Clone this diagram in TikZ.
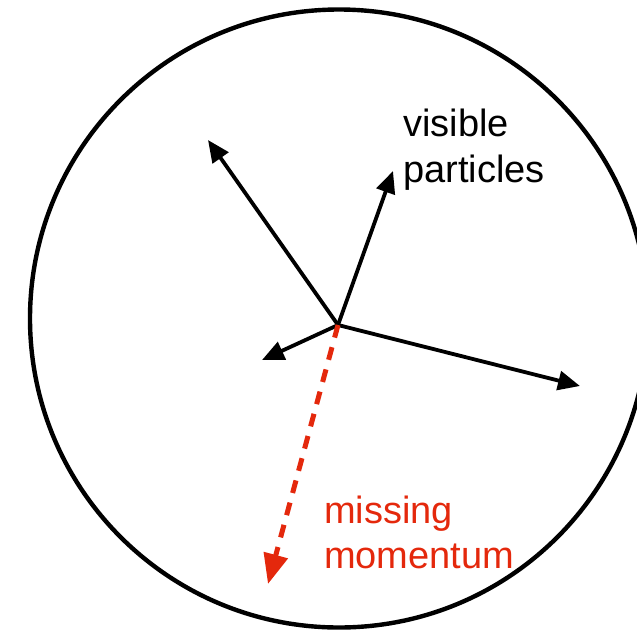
\documentclass[tikz,border=0pt]{standalone}
\usepackage{fontspec}
\setmainfont{Liberation Sans}
\usetikzlibrary{arrows.meta}
\definecolor{mred}{RGB}{228,40,12}
\begin{document}
\begin{tikzpicture}[x=1pt,y=-1pt,
  arr/.style={line width=3.8pt,-{Triangle[length=22pt,width=19pt]}},
  redarr/.style={line width=5pt,mred,dash pattern=on 13pt off 10pt,-{Triangle[length=30pt,width=24pt]}},
  lbl/.style={inner sep=0pt,anchor=base west,font=\fontsize{38}{45}\selectfont}]
\useasboundingbox (0,0) rectangle (637,630);
\clip (0,0) rectangle (637,630);
\draw[line width=4.4pt] (339,318.5) circle[radius=309];
\coordinate (O) at (338,325);
\coordinate (t1) at (208,140);
\coordinate (t2) at (393,171);
\coordinate (t3) at (262,360);
\coordinate (t4) at (580,386);
\coordinate (t5) at (268,584);
\draw[arr] (O) -- (t1);
\draw[arr] (O) -- (t2);
\draw[arr] (O) -- (t3);
\draw[arr] (O) -- (t4);
\draw[redarr] (O) -- (t5);
\node[lbl] (v1) at (403,136) {visible};
\node[lbl] (v2) at (403,182) {particles};
\node[lbl,mred] (m1) at (324,523) {missing};
\node[lbl,mred] (m2) at (324,568) {momentum};
\end{tikzpicture}
\end{document}
